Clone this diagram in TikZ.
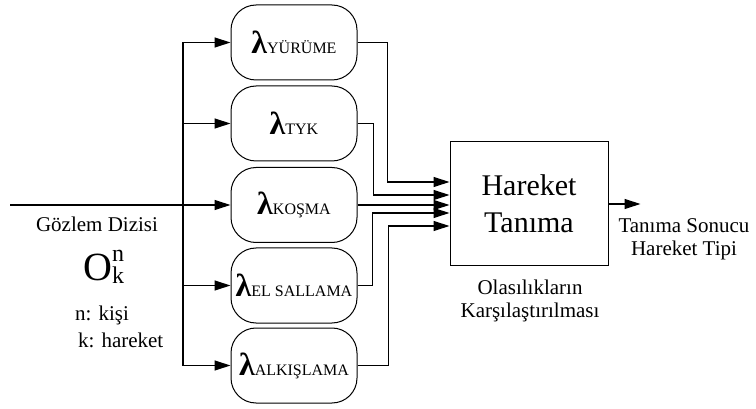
\documentclass[tikz,border=0pt]{standalone}
\usepackage{fontspec}
\setmainfont{Liberation Serif}
\usetikzlibrary{arrows.meta}
\newcommand\mylam{\fontsize{32}{32}\selectfont\bfseries}
\newcommand\mysub{\fontsize{16}{16}\selectfont\mdseries}
\begin{document}
\begin{tikzpicture}[x=1pt,y=-1pt,
  lbox/.style={draw,line width=1pt,rounded corners=25pt,minimum width=126pt,minimum height=75pt,inner sep=0pt},
  mbox/.style={draw,line width=1pt,minimum width=158pt,minimum height=124pt,inner sep=0pt,align=center,font=\fontsize{30}{37}\selectfont},
  lbl/.style={font=\fontsize{21}{23}\selectfont,inner sep=0pt},
  ln/.style={line width=1.2pt},
  arr/.style={line width=1.2pt,-{Triangle[length=16pt,width=10pt]}}]
\useasboundingbox (0,0) rectangle (756,409);
% model boxes
\node[lbox] (b1) at (294,42.5) {\mylam λ\mysub YÜRÜME};
\node[lbox] (b2) at (294,123.5) {\mylam λ\mysub TYK};
\node[lbox] (b3) at (294,205) {\mylam λ\mysub KOŞMA};
\node[lbox] (b4) at (294,285.5) {\mylam λ\mysub EL SALLAMA};
\node[lbox] (b5) at (294,365.5) {\mylam λ\mysub ALKIŞLAMA};
% main box
\node[mbox] (m) at (529,204) {Hareket\\Tanıma};
% input
\coordinate (in) at (10,205);
\coordinate (v) at (183,0);
\draw[arr] (in) -- (b3.west);
\draw[ln] (v |- b1.west) -- (v |- b5.west);
\draw[arr] (v |- b1.west) -- (b1.west);
\draw[arr] (v |- b2.west) -- (b2.west);
\draw[arr] (v |- b4.west) -- (b4.west);
\draw[arr] (v |- b5.west) -- (b5.west);
% outputs into main box
\draw[arr] (b1.east) -- ++(30,0) |- ([yshift=22pt]m.west);
\draw[arr] (b2.east) -- ++(16,0) |- ([yshift=9pt]m.west);
\draw[arr] (b3.east) -- (b3.east -| m.west);
\draw[arr] (b4.east) -- ++(15,0) |- ([yshift=-9pt]m.west);
\draw[arr] (b5.east) -- ++(31,0) |- ([yshift=-22pt]m.west);
% output
\draw[arr] (m.east) -- ++(32,0) coordinate (out);
% labels
\node[lbl,anchor=base,align=center] (res) at (684,255) {Tanıma Sonucu\\Hareket Tipi};
\node[lbl,anchor=base,align=center] (ola) at (530,317) {Olasılıkların\\Karşılaştırılması};
\node[lbl,anchor=base] (gd) at (97,232) {Gözlem Dizisi};
\node[anchor=base west,inner sep=0pt] (obs) at (83,280) {\fontsize{40}{40}\selectfont O\fontsize{24}{24}\selectfont\rlap{\raisebox{19pt}{n}}\raisebox{-3pt}{k}};
\node[lbl,anchor=base west] (nk) at (75,320) {n: kişi};
\node[lbl,anchor=base west] (kh) at (78,347) {k: hareket};
\end{tikzpicture}
\end{document}
